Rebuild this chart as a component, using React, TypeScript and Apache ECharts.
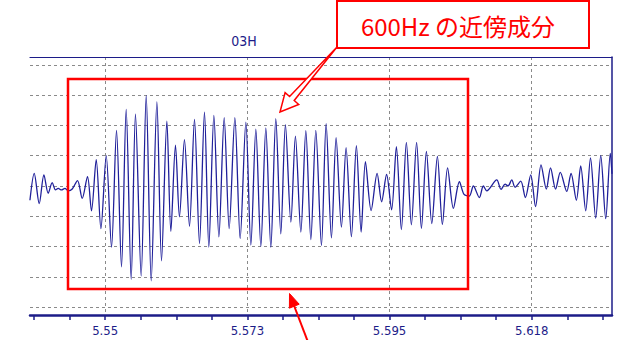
import React, { useEffect, useRef } from "react";
import * as echarts from "echarts";

// ---- data ----
const times = [
  5.53809, 5.53877, 5.53956, 5.5403, 5.54098, 5.54162, 5.54214, 5.54257, 5.54309, 5.54363,
  5.54415, 5.54478, 5.54562, 5.54636, 5.5472, 5.54783, 5.54858, 5.54932, 5.55016, 5.551,
  5.55179, 5.55258, 5.55332, 5.55411, 5.55479, 5.55569, 5.55649, 5.55728, 5.55818, 5.55891,
  5.55976, 5.56039, 5.56112, 5.56175, 5.56254, 5.56334, 5.56413, 5.56492, 5.56571, 5.5664,
  5.5672, 5.56799, 5.56883, 5.56962, 5.57052, 5.57136, 5.57226, 5.57305, 5.57384, 5.57463,
  5.57542, 5.57621, 5.577, 5.57779, 5.57852, 5.57938, 5.5801, 5.58096, 5.58175, 5.58254,
  5.58333, 5.58422, 5.58496, 5.5858, 5.58654, 5.58738, 5.58812, 5.58896, 5.58975, 5.5905,
  5.59118, 5.59208, 5.59303, 5.59374, 5.59453, 5.59532, 5.59608, 5.59687, 5.59766, 5.59845,
  5.59928, 5.60004, 5.60083, 5.60168, 5.60257, 5.60336, 5.60418, 5.6051, 5.60605, 5.60679,
  5.60763, 5.60826, 5.60921, 5.60984, 5.61038, 5.61196, 5.61264, 5.61328, 5.61375, 5.61434,
  5.61486, 5.61576, 5.61649, 5.61734, 5.6181, 5.61897, 5.61981, 5.62047, 5.62127, 5.62202,
  5.62304, 5.62372, 5.62456, 5.62525, 5.62604, 5.6268, 5.62762, 5.62842, 5.62921, 5.62993,
  5.6302,
];

const amplitudes = [
  -0.47, 0.42, -0.58, 0.37, -0.24, 0.11, -0.13, -0.08, -0.13, -0.08,
  -0.16, -0.1, 0.18, -0.41, 0.31, -0.82, 0.87, -1.41, 1.0, -2.02,
  1.84, -2.67, 2.53, -3.08, 2.37, -2.97, 2.98, -3.13, 2.78, -2.47,
  2.14, -1.5, 1.35, -1.02, 1.53, -1.33, 2.2, -1.9, 2.44, -2.02,
  2.33, -1.68, 2.26, -1.41, 2.26, -1.74, 2.11, -1.95, 1.88, -2.0,
  1.92, -2.02, 2.22, -1.58, 2.03, -1.19, 1.65, -1.52, 1.83, -1.77,
  1.84, -1.97, 2.06, -1.71, 1.6, -1.36, 1.27, -1.67, 1.33, -1.52,
  0.8, -0.81, 0.42, -0.52, 0.38, -0.79, 1.3, -1.44, 1.44, -1.28,
  1.44, -1.4, 1.14, -1.24, 0.98, -1.27, 0.6, -0.74, 0.14, -0.28,
  -0.33, 0.0, -0.38, 0.0, -0.16, 0.2, -0.11, 0.06, 0.0, 0.2,
  -0.04, 0.16, -0.38, 0.37, -0.68, 0.7, -0.1, 0.6, -0.1, 0.45,
  -0.18, 0.42, -0.47, 0.66, -0.82, 0.93, -1.06, 1.0, -1.08, 1.08,
  0.4,
];

const majorTicks = [5.55, 5.5725, 5.595, 5.6175];
const tickLabels = ["5.55", "5.573", "5.595", "5.618"];
const minorTicks = [
  5.53875, 5.544375, 5.55, 5.555625, 5.56125, 5.566875, 5.5725, 5.578125, 5.58375,
  5.589375, 5.595, 5.600625, 5.60625, 5.611875, 5.6175, 5.623125, 5.62875,
];
const levels = [-4, -3, -2, -1, 0, 1, 2, 3, 4];

const X_MIN = 5.5381;
const X_MAX = 5.6302;
const Y_MIN = -4.26;
const Y_MAX = 4.26;

const TITLE = "03H";
const NOTE = "600Hz の近傍成分";

const NAVY = "#1c1c88";
const WAVE = "#20209a";
const GRID = "#8a8a8a";
const RED = "#ff0000";
const NARROW = "'Liberation Sans Narrow', 'DejaVu Sans Condensed', 'Arial Narrow', sans-serif";
const NOTE_FONT = "'Liberation Sans Narrow', 'Noto Sans CJK JP', 'DejaVu Sans Condensed', sans-serif";

export default function App() {
  const ref = useRef<HTMLDivElement>(null);

  useEffect(() => {
    if (!ref.current) return;
    const chart = echarts.init(ref.current, null, { renderer: "svg" });
    const data = times.map((t, i) => [t, amplitudes[i]]);

    const option: any = {
      animation: false,
      backgroundColor: "#ffffff",
      grid: { left: 30, right: 6, top: 57, bottom: 25, containLabel: false },
      xAxis: [
        {
          type: "value",
          min: X_MIN,
          max: X_MAX,
          position: "bottom",
          axisLine: { show: true, onZero: false, lineStyle: { color: NAVY, width: 2.5 } },
          axisTick: {
            show: true,
            customValues: minorTicks,
            length: 5,
            lineStyle: { color: NAVY, width: 1.5 },
          },
          axisLabel: {
            show: true,
            customValues: majorTicks,
            color: NAVY,
            fontFamily: NARROW,
            fontSize: 13,
            margin: 9,
            formatter: (v: number) => {
              const i = majorTicks.findIndex((m) => Math.abs(m - v) < 1e-6);
              return i >= 0 ? tickLabels[i] : "";
            },
          },
          splitLine: { show: false },
        },
        {
          type: "value",
          min: X_MIN,
          max: X_MAX,
          position: "top",
          axisLine: { show: true, onZero: false, lineStyle: { color: NAVY, width: 1.2 } },
          axisTick: { show: false, customValues: majorTicks },
          axisLabel: { show: false },
          splitLine: { show: true, lineStyle: { color: GRID, type: [3, 3], width: 1 } },
        },
      ],
      yAxis: {
        type: "value",
        min: Y_MIN,
        max: Y_MAX,
        position: "right",
        axisLine: { show: true, onZero: false, lineStyle: { color: NAVY, width: 1.5 } },
        axisTick: { show: false, customValues: levels },
        axisLabel: { show: false },
        splitLine: { show: true, lineStyle: { color: GRID, type: [3, 3], width: 1 } },
      },
      series: [
        {
          type: "line",
          xAxisIndex: 0,
          data,
          showSymbol: false,
          symbol: "none",
          smooth: 0.3,
          clip: true,
          lineStyle: { color: WAVE, width: 1.3 },
          z: 3,
        },
      ],
      graphic: [
        {
          type: "text",
          x: 244,
          y: 41,
          z: 100,
          style: {
            text: TITLE,
            fill: NAVY,
            font: `14px ${NARROW}`,
            textAlign: "center",
            textVerticalAlign: "middle",
          },
        },
        {
          type: "rect",
          z: 100,
          shape: { x: 68, y: 79, width: 400, height: 210 },
          style: { fill: "none", stroke: RED, lineWidth: 2.5 },
        },
        {
          type: "polygon",
          z: 101,
          shape: {
            points: [
              [337, 47],
              [294.2, 100.5],
              [298.7, 104.4],
              [280, 112],
              [285.1, 92.6],
              [289.6, 96.5],
            ],
          },
          style: { fill: "#ffffff", stroke: RED, lineWidth: 1.5 },
        },
        {
          type: "line",
          z: 101,
          shape: { x1: 308, y1: 342, x2: 294.2, y2: 306 },
          style: { stroke: RED, lineWidth: 2 },
        },
        {
          type: "polygon",
          z: 101,
          shape: {
            points: [
              [289.5, 293.5],
              [299.2, 304.2],
              [289.4, 308.2],
            ],
          },
          style: { fill: RED, stroke: RED, lineWidth: 1 },
        },
        {
          type: "rect",
          z: 102,
          shape: { x: 337, y: 1, width: 252, height: 47 },
          style: { fill: "#ffffff", stroke: RED, lineWidth: 2 },
        },
        {
          type: "text",
          x: 458,
          y: 25,
          z: 103,
          style: {
            text: NOTE,
            fill: RED,
            font: `24px ${NOTE_FONT}`,
            textAlign: "center",
            textVerticalAlign: "middle",
          },
        },
      ],
    };

    chart.setOption(option);
    return () => chart.dispose();
  }, []);

  return (
    <div
      ref={ref}
      style={{ position: "fixed", left: 0, top: 0, width: 618, height: 340, background: "#fff" }}
    />
  );
}
